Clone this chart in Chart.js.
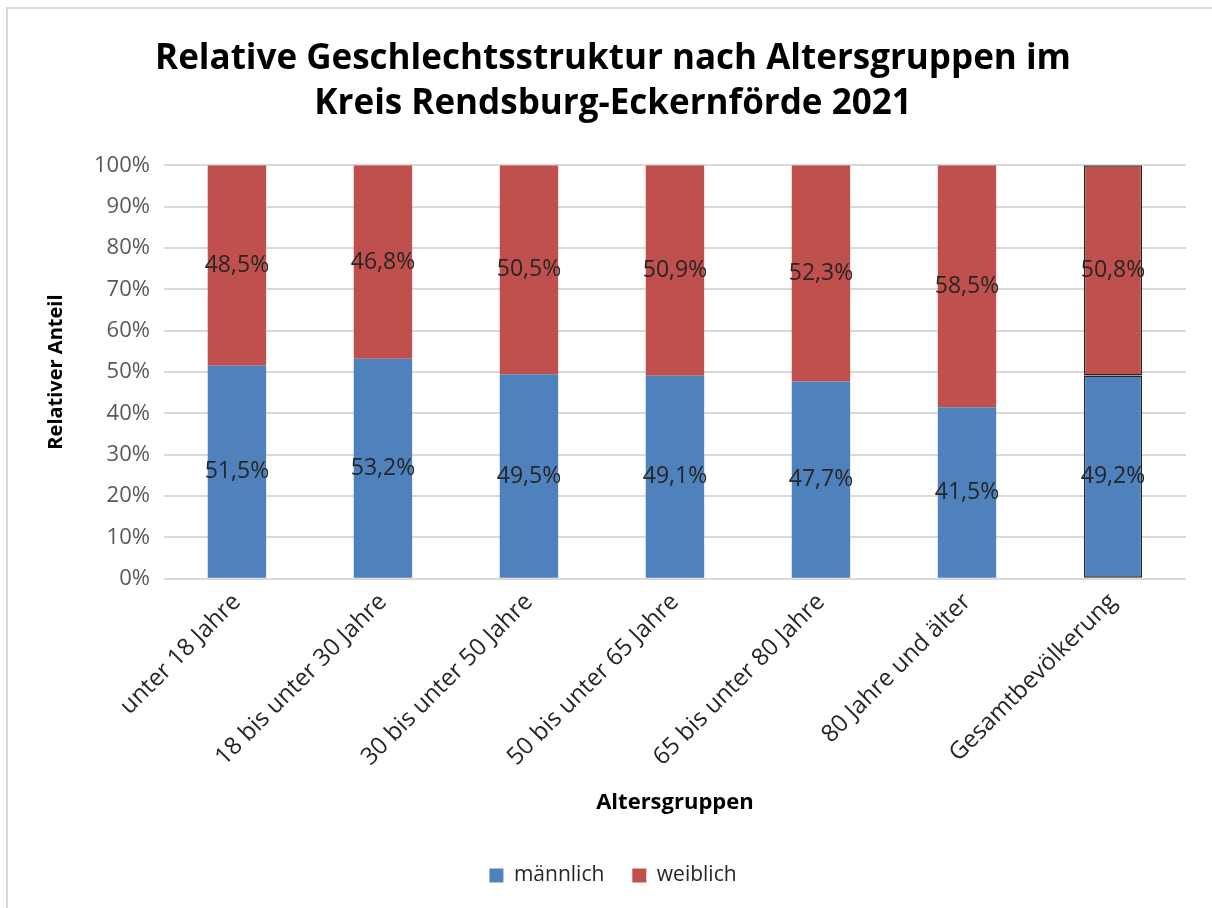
<!DOCTYPE html>
<html>
<head>
<meta charset="utf-8">
<script src="https://cdn.jsdelivr.net/npm/chart.js@4"></script>
<style>
  html, body { margin: 0; padding: 0; background: #fff; overflow: hidden; }
  #frame { position: absolute; left: 6px; top: 7px; width: 1400px; height: 1000px;
           border-top: 2px solid #d9d9d9; border-left: 2px solid #d9d9d9; }
  #wrap { position: absolute; left: 0; top: 0; width: 1212px; height: 908px; }
</style>
</head>
<body>
<div id="frame"></div>
<div id="wrap"><canvas id="chart"></canvas></div>
<script>
// Altersgruppen und Anteile (in %)
const categories = ['unter 18 Jahre', '18 bis unter 30 Jahre', '30 bis unter 50 Jahre',
  '50 bis unter 65 Jahre', '65 bis unter 80 Jahre', '80 Jahre und älter', 'Gesamtbevölkerung'];
const maennlich = [51.5, 53.2, 49.5, 49.1, 47.7, 41.5, 49.2];
const weiblich = [48.5, 46.8, 50.5, 50.9, 52.3, 58.5, 50.8];
const yTicks = [0, 10, 20, 30, 40, 50, 60, 70, 80, 90, 100];

const COLORS = { blue: '#4f81bd', red: '#c0504d', grid: '#d9d9d9', text: '#595959', dark: '#262626' };
const FONT = "'Open Sans', sans-serif";

// dunkler Rahmen nur um den letzten Balken (Gesamtbevölkerung)
const last = categories.length - 1;
const edgeColor = categories.map((c, i) => i === last ? COLORS.dark : 'rgba(0,0,0,0)');
const edgeWidth = categories.map((c, i) => i === last ? 1.5 : 0);

const valueLabels = {
  id: 'valueLabels',
  afterDatasetsDraw(chart) {
    const { ctx } = chart;
    ctx.save();
    ctx.font = '23px ' + FONT;
    ctx.fillStyle = COLORS.dark;
    ctx.textAlign = 'center';
    ctx.textBaseline = 'middle';
    chart.data.datasets.forEach((ds, di) => {
      chart.getDatasetMeta(di).data.forEach((bar, i) => {
        const y = (bar.y + bar.base) / 2;
        ctx.fillText(ds.data[i].toFixed(1).replace('.', ',') + '%', bar.x, y);
      });
    });
    ctx.restore();
  }
};

new Chart(document.getElementById('chart'), {
  type: 'bar',
  data: {
    labels: categories,
    datasets: [
      { label: 'männlich', data: maennlich, backgroundColor: COLORS.blue, borderColor: edgeColor, borderWidth: edgeWidth, borderSkipped: false },
      { label: 'weiblich', data: weiblich, backgroundColor: COLORS.red, borderColor: edgeColor, borderWidth: edgeWidth, borderSkipped: false },
    ],
  },
  options: {
    responsive: true,
    maintainAspectRatio: false,
    animation: false,
    layout: { padding: { left: 40, right: 26, top: 0, bottom: 12 } },
    datasets: { bar: { categoryPercentage: 1, barPercentage: 0.4 } },
    plugins: {
      title: {
        display: true,
        text: ['Relative Geschlechtsstruktur nach Altersgruppen im', 'Kreis Rendsburg-Eckernförde 2021'],
        color: '#000',
        font: { family: FONT, size: 35, weight: 'bold', lineHeight: 1.29 },
        padding: { top: 36, bottom: 39 },
      },
      legend: {
        position: 'bottom',
        labels: { color: COLORS.dark, boxWidth: 14, boxHeight: 14, padding: 28, font: { family: FONT, size: 21 } },
      },
      tooltip: { enabled: false },
    },
    scales: {
      x: {
        stacked: true,
        grid: { display: false, drawTicks: false },
        border: { display: false },
        ticks: { color: COLORS.dark, font: { family: FONT, size: 24 }, maxRotation: 45, minRotation: 45, padding: 9 },
        title: { display: true, text: 'Altersgruppen', color: '#000', font: { family: FONT, size: 22, weight: 'bold' }, padding: { top: 9, bottom: 21 } },
      },
      y: {
        stacked: true,
        min: 0,
        max: 100,
        afterBuildTicks: axis => { axis.ticks = yTicks.map(v => ({ value: v })); },
        grid: { color: COLORS.grid, lineWidth: 2, drawTicks: false },
        border: { display: false },
        ticks: { color: COLORS.text, font: { family: FONT, size: 22 }, padding: 14, callback: v => v + '%' },
        title: { display: true, text: 'Relativer Anteil', color: '#000', font: { family: FONT, size: 20, weight: 'bold' }, padding: { bottom: 12 } },
      },
    },
  },
  plugins: [valueLabels],
});
</script>
</body>
</html>
